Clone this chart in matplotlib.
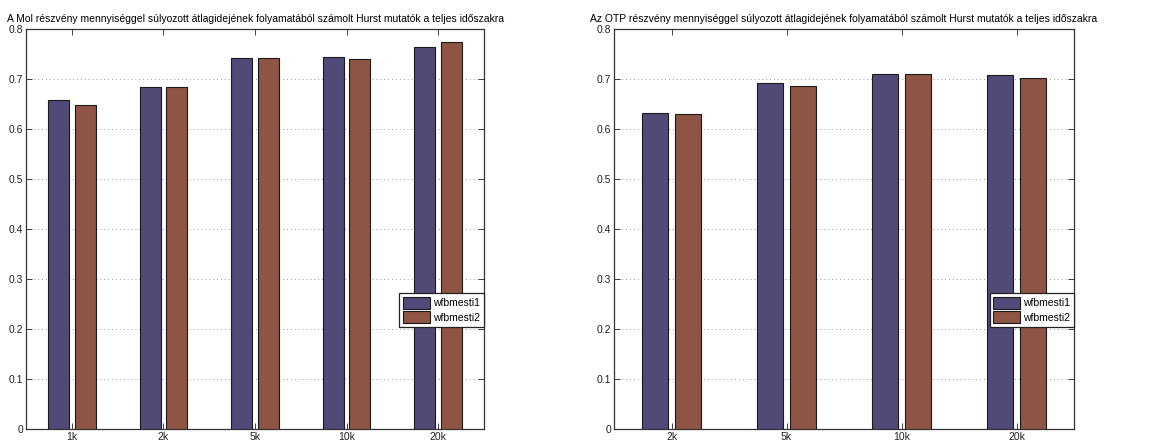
import matplotlib
matplotlib.use("Agg")
import matplotlib.pyplot as plt
import numpy as np

plt.rcParams['font.family'] = ['Liberation Sans', 'DejaVu Sans']

# bal oldali abra: Mol
mol_labels = ['1k', '2k', '5k', '10k', '20k']
mol_wfbmesti1 = [0.659, 0.684, 0.743, 0.744, 0.764]
mol_wfbmesti2 = [0.649, 0.684, 0.742, 0.740, 0.775]

# jobb oldali abra: OTP
otp_labels = ['2k', '5k', '10k', '20k']
otp_wfbmesti1 = [0.632, 0.692, 0.711, 0.709]
otp_wfbmesti2 = [0.630, 0.687, 0.711, 0.702]

series_names = ['wfbmesti1', 'wfbmesti2']
title_mol = 'A Mol részvény mennyiséggel súlyozott átlagidejének folyamatából számolt Hurst mutatók a teljes időszakra'
title_otp = 'Az OTP részvény mennyiséggel súlyozott átlagidejének folyamatából számolt Hurst mutatók a teljes időszakra'

c1 = '#4f4a78'
c2 = '#8e5545'


def draw_panel(ax, labels, s1, s2, title):
    x = np.arange(1, len(labels) + 1)
    w = 0.23
    ax.bar(x - 0.145, s1, w, color=c1, edgecolor='#1a1a1a', linewidth=0.8,
           label=series_names[0], zorder=3)
    ax.bar(x + 0.145, s2, w, color=c2, edgecolor='#1a1a1a', linewidth=0.8,
           label=series_names[1], zorder=3)
    ax.set_xlim(0.5, len(labels) + 0.5)
    ax.set_ylim(0, 0.8)
    ax.set_xticks(x)
    ax.set_xticklabels(labels)
    ax.set_yticks(np.arange(0, 0.81, 0.1))
    ax.set_yticklabels(['0', '0.1', '0.2', '0.3', '0.4', '0.5', '0.6', '0.7', '0.8'])
    ax.tick_params(direction='in', top=True, right=True, length=4, width=0.6,
                   labelsize=7.5, pad=2, colors='#222222')
    ax.yaxis.grid(True, linestyle=(0, (1, 3)), color='#999999', linewidth=0.7, zorder=0)
    for sp in ax.spines.values():
        sp.set_linewidth(0.9)
        sp.set_color('#333333')
    ax.set_title(title, fontsize=7.45, pad=5)
    leg = ax.legend(loc='center right', bbox_to_anchor=(1.0, 0.2975), fontsize=7.5,
                    fancybox=False, framealpha=1, edgecolor='#222222',
                    handlelength=2.6, handleheight=1.45, borderpad=0.35,
                    labelspacing=0.2, handletextpad=0.3, borderaxespad=0.0)
    leg.get_frame().set_linewidth(0.9)
    leg.set_zorder(5)


fig = plt.figure(figsize=(11.57, 4.43), dpi=100)
ax1 = fig.add_axes([0.0225, 0.0316, 0.3958, 0.9029])
ax2 = fig.add_axes([0.5307, 0.0316, 0.3976, 0.9029])

draw_panel(ax1, mol_labels, mol_wfbmesti1, mol_wfbmesti2, title_mol)
draw_panel(ax2, otp_labels, otp_wfbmesti1, otp_wfbmesti2, title_otp)

fig.savefig('out.png', dpi=100)
